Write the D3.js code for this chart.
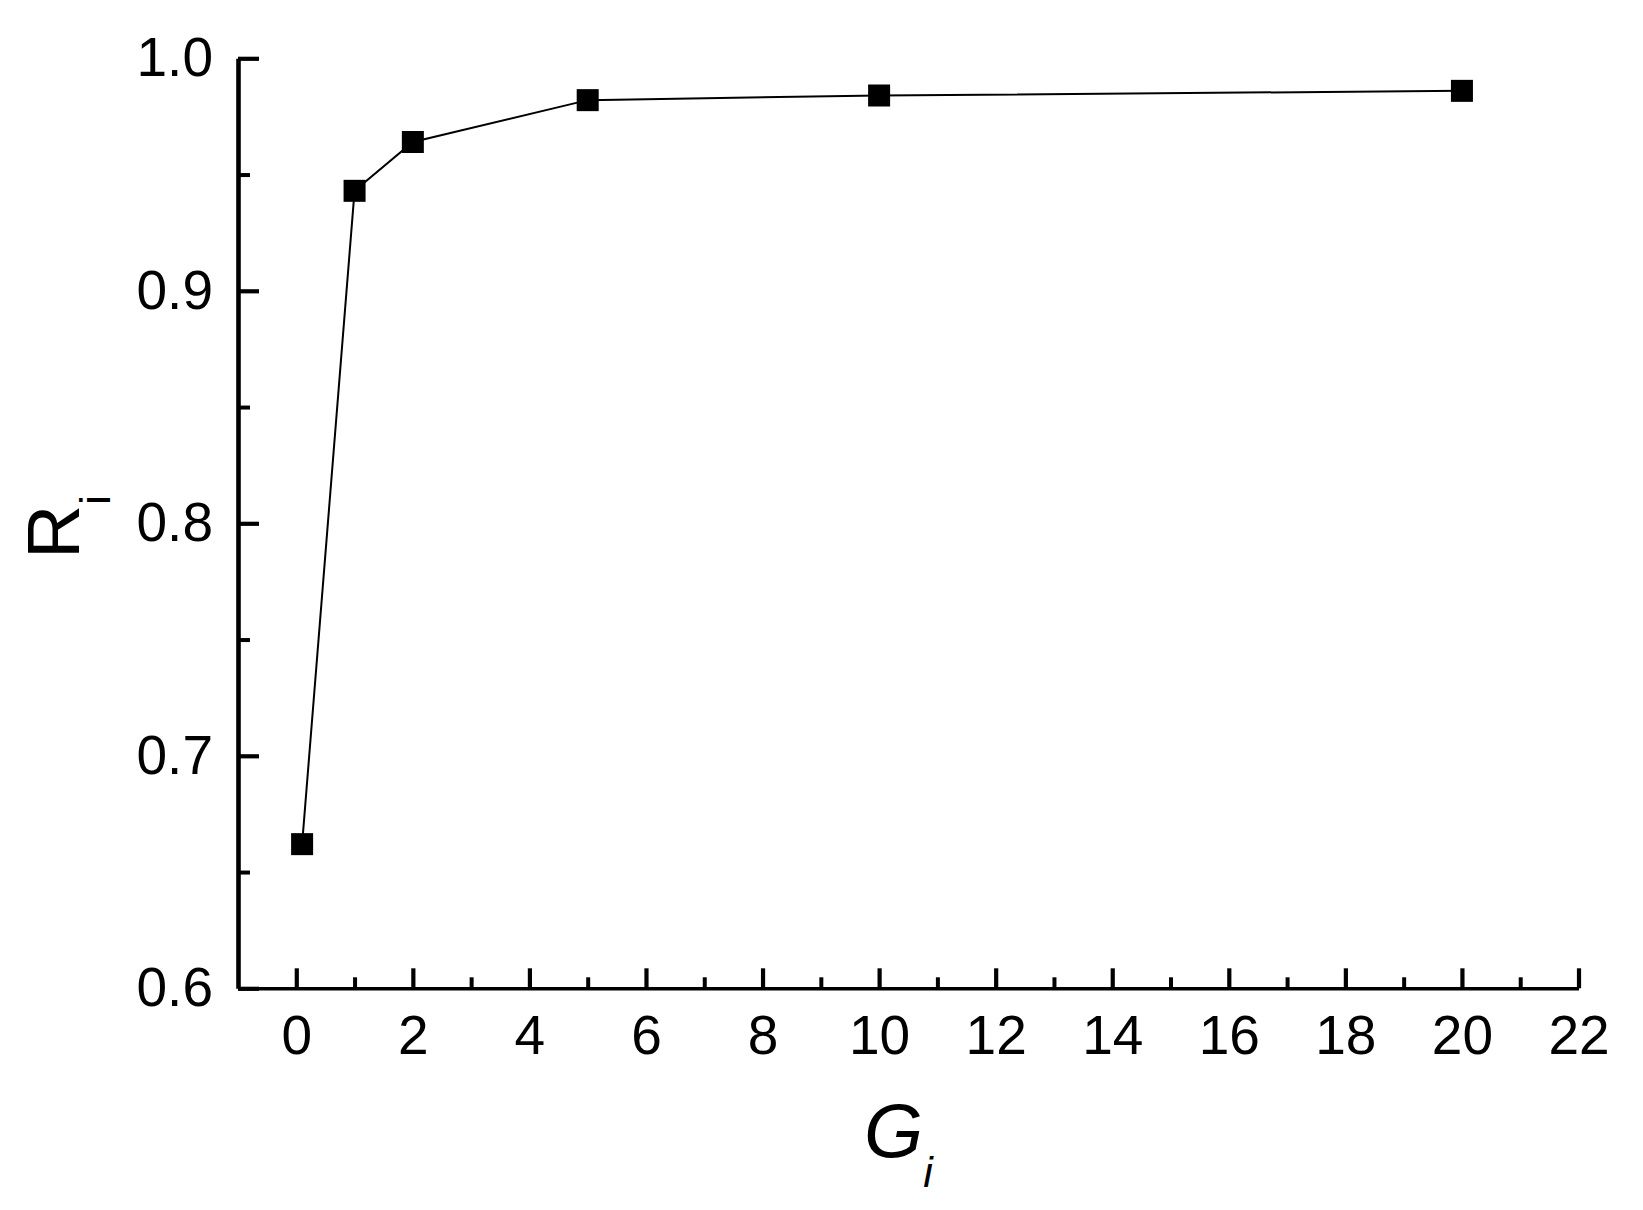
<!DOCTYPE html>
<html>
<head>
<meta charset="utf-8">
<script src="https://cdn.jsdelivr.net/npm/d3@7"></script>
<style>
  html, body { margin: 0; padding: 0; background: #fff; }
  svg { display: block; }
  text { font-family: "Liberation Sans", Arial, sans-serif; fill: #000; }
</style>
</head>
<body>
<svg id="chart" width="1643" height="1210"></svg>
<script>
// Data
const gValues = [0.1, 1, 2, 5, 10, 20];
const rValues = [0.662, 0.943, 0.964, 0.982, 0.984, 0.986];
const xMajorTicks = [0, 2, 4, 6, 8, 10, 12, 14, 16, 18, 20, 22];
const xMinorTicks = [1, 3, 5, 7, 9, 11, 13, 15, 17, 19, 21];
const yMajorTicks = [0.6, 0.7, 0.8, 0.9, 1.0];
const yMinorTicks = [0.65, 0.75, 0.85, 0.95];
const xLabel = "G";
const yLabel = "R";
const subLabel = "i";

const svg = d3.select("#chart");
svg.append("rect").attr("width", 1643).attr("height", 1210).attr("fill", "#fff");

const x = d3.scaleLinear().domain([-1, 22]).range([238, 1578.5]);
const y = d3.scaleLinear().domain([0.6, 1.0]).range([988.3, 58.3]);

// Minor ticks
svg.append("g")
  .attr("transform", `translate(0,${y(0.6)})`)
  .call(d3.axisBottom(x).tickValues(xMinorTicks).tickSize(-11).tickSizeOuter(0).tickFormat(""))
  .call(g => g.select(".domain").remove())
  .call(g => g.selectAll(".tick line").attr("stroke", "#000").attr("stroke-width", 4));

svg.append("g")
  .attr("transform", `translate(${x(-1)},0)`)
  .call(d3.axisLeft(y).tickValues(yMinorTicks).tickSize(-12).tickSizeOuter(0).tickFormat(""))
  .call(g => g.select(".domain").remove())
  .call(g => g.selectAll(".tick line").attr("stroke", "#000").attr("stroke-width", 4));

// Major axes
const xAxis = svg.append("g")
  .attr("transform", `translate(0,${y(0.6)})`)
  .call(d3.axisBottom(x).tickValues(xMajorTicks).tickSize(-20).tickSizeOuter(0).tickPadding(27).tickFormat(d3.format("d")));
xAxis.select(".domain").attr("stroke", "#000").attr("stroke-width", 3.6);
xAxis.selectAll(".tick line").attr("stroke", "#000").attr("stroke-width", 4.2);
xAxis.selectAll(".tick text").attr("font-size", 55).attr("font-family", "Liberation Sans, Arial, sans-serif").attr("fill", "#000");

const yAxis = svg.append("g")
  .attr("transform", `translate(${x(-1)},0)`)
  .call(d3.axisLeft(y).tickValues(yMajorTicks).tickSize(-21).tickSizeOuter(0).tickPadding(25).tickFormat(d3.format(".1f")));
yAxis.select(".domain").attr("stroke", "#000").attr("stroke-width", 4.6);
yAxis.selectAll(".tick line").attr("stroke", "#000").attr("stroke-width", 4.2);
yAxis.selectAll(".tick text").attr("font-size", 55).attr("font-family", "Liberation Sans, Arial, sans-serif").attr("fill", "#000");

// Data line
const pts = gValues.map((g, i) => [g, rValues[i]]);
svg.append("path")
  .datum(pts)
  .attr("fill", "none")
  .attr("stroke", "#000")
  .attr("stroke-width", 2)
  .attr("d", d3.line().x(d => x(d[0])).y(d => y(d[1])));

// Markers
const ms = 22;
svg.append("g").selectAll("rect")
  .data(pts)
  .join("rect")
  .attr("x", d => x(d[0]) - ms / 2)
  .attr("y", d => y(d[1]) - ms / 2)
  .attr("width", ms)
  .attr("height", ms)
  .attr("fill", "#000");

// X axis label
const xt = svg.append("text")
  .attr("x", 864)
  .attr("y", 1157)
  .attr("font-size", 76)
  .attr("font-style", "italic");
xt.append("tspan").text(xLabel);
xt.append("tspan").attr("font-size", 43).attr("dy", 30).text(subLabel);

// Y axis label
const yt = svg.append("text")
  .attr("transform", "translate(79,559) rotate(-90)")
  .attr("font-size", 75);
yt.append("tspan").text(yLabel);
yt.append("tspan").attr("font-size", 43).attr("dy", 31).text(subLabel);
</script>
</body>
</html>
